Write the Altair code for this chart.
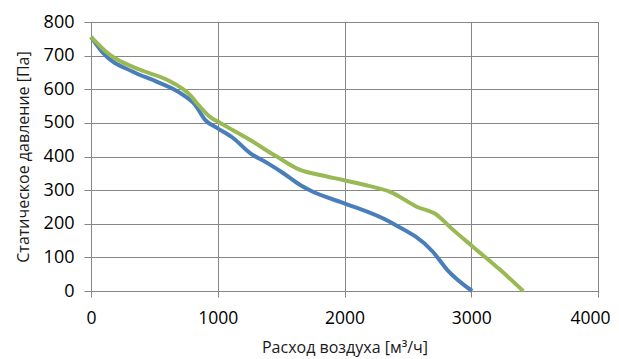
import altair as alt
import pandas as pd

blue_x = [0, 95, 331, 521, 702, 821, 900, 994, 1121, 1255, 1389, 1515, 1650, 1750, 1989, 2360, 2699, 2810, 3007]
blue_y = [756, 708, 652, 622, 589, 554, 509, 485, 455, 410, 381, 351, 315, 295, 262, 205, 116, 63, 0]
green_x = [0, 150, 387, 600, 781, 860, 939, 1018, 1255, 1468, 1650, 1807, 1989, 2200, 2360, 2573, 2731, 2833, 3015, 3228, 3410]
green_y = [756, 702, 658, 628, 583, 548, 518, 500, 449, 399, 360, 345, 330, 312, 295, 250, 226, 190, 131, 63, 0]

rows = [{"x": x, "y": y, "s": "A", "o": i} for i, (x, y) in enumerate(zip(blue_x, blue_y))]
rows += [{"x": x, "y": y, "s": "B", "o": i} for i, (x, y) in enumerate(zip(green_x, green_y))]
df = pd.DataFrame(rows)

font = "Open Sans"
chart = alt.Chart(df).mark_line(strokeWidth=4, interpolate="monotone").encode(
    x=alt.X("x:Q", scale=alt.Scale(domain=[0, 4000], nice=False),
            axis=alt.Axis(title="Расход воздуха [м³/ч]", values=[0, 1000, 2000, 3000, 4000], format="d",
                          labelFontSize=17.5, titleFontSize=16, titleFontWeight="normal", labelFlush=False,
                          labelOffset={"condition": {"test": "datum.value === 4000", "value": -8}, "value": 0},
                          labelPadding=12, titlePadding=13, tickSize=6)),
    y=alt.Y("y:Q", scale=alt.Scale(domain=[0, 800], nice=False),
            axis=alt.Axis(title="Статическое давление [Па]", values=list(range(0, 801, 100)), format="d",
                          labelFontSize=18, titleFontSize=16, titleFontWeight="normal", labelFlush=False,
                          labelPadding=10, titlePadding=12, tickSize=7)),
    color=alt.Color("s:N", scale=alt.Scale(domain=["A", "B"], range=["#4A7EBB", "#98B954"]), legend=None),
    order="o:Q",
).properties(
    width=507, height=269,
    autosize=alt.AutoSizeParams(type="none"),
    padding={"left": 83, "top": 14, "right": 13, "bottom": 68},
).configure_axis(
    gridColor="#868686", domainColor="#868686", tickColor="#868686",
    labelColor="#000000", titleColor="#1a1a1a", labelFont=font, titleFont=font,
    gridWidth=1, domainWidth=1,
).configure_view(stroke="#868686")

chart.save("out.html", embed_options={"renderer": "svg", "actions": False})
